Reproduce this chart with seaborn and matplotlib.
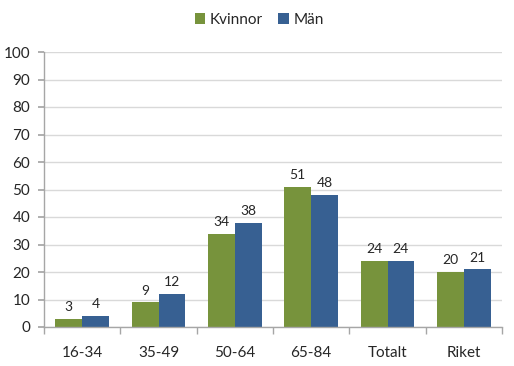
import matplotlib
matplotlib.use("Agg")
import matplotlib.pyplot as plt
import seaborn as sns
import pandas as pd
import numpy as np

categories = ["16-34", "35-49", "50-64", "65-84", "Totalt", "Riket"]
kvinnor = [3, 9, 34, 51, 24, 20]
man = [4, 12, 38, 48, 24, 21]
series_names = ["Kvinnor", "Män"]
colors = ["#77933C", "#376092"]

df = pd.DataFrame({
    "cat": categories * 2,
    "val": kvinnor + man,
    "sex": [series_names[0]] * len(categories) + [series_names[1]] * len(categories),
})

sns.set_theme(style="white")
plt.rcParams['font.family'] = ['Lato', 'DejaVu Sans']

fig = plt.figure(figsize=(5.14, 3.66), dpi=100)
ax = fig.add_axes([44/514, 1-327/366, (502-44)/514, (327-52)/366])

sns.barplot(data=df, x="cat", y="val", hue="sex", palette=colors, width=0.7,
            ax=ax, saturation=1, edgecolor="none", dodge=True)

ax.set_ylim(0, 100)
ax.set_xlim(-0.5, len(categories)-0.5)
ax.set_yticks(range(0, 101, 10))
ax.yaxis.grid(True, color="#D9D9D9", linewidth=1)
ax.set_axisbelow(True)
ax.set_xlabel("")
ax.set_ylabel("")
for s in ["top", "right"]:
    ax.spines[s].set_visible(False)
for s in ["left", "bottom"]:
    ax.spines[s].set_color("#A6A6A6")
    ax.spines[s].set_linewidth(1)

ax.tick_params(axis="y", which="major", length=4, color="#A6A6A6", labelsize=11, pad=6, left=True, direction="out")
ax.tick_params(axis="x", which="major", length=0, labelsize=11, pad=14)
ax.set_xticks(np.arange(-0.5, len(categories), 1), minor=True)
ax.tick_params(axis="x", which="minor", length=5, color="#A6A6A6", bottom=True, direction="out")

for c in ax.containers:
    ax.bar_label(c, padding=4, fontsize=10)

leg = ax.legend(loc="center", bbox_to_anchor=(0.47, 1 + 32/275), ncol=2, frameon=False,
                fontsize=11, handlelength=0.7, handleheight=0.7, handletextpad=0.3,
                columnspacing=1.0)

fig.savefig("out.png", dpi=100)
